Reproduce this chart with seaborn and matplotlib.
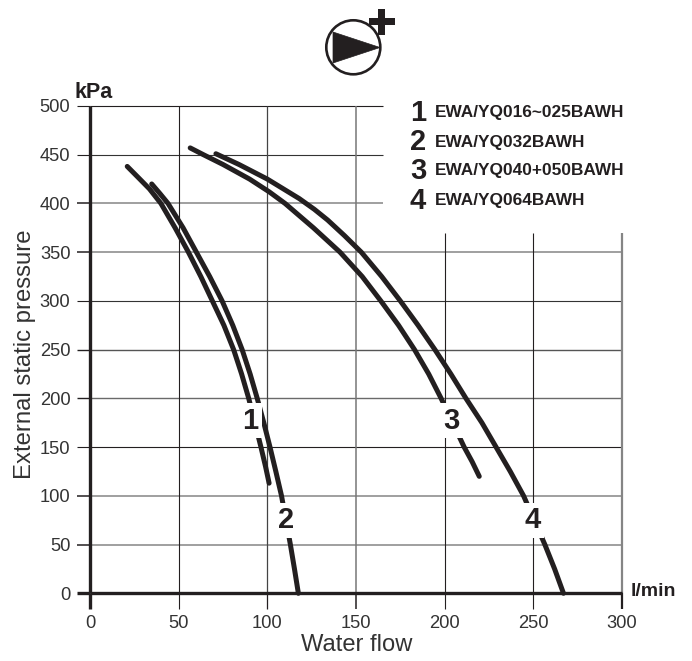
import matplotlib
matplotlib.use("Agg")
import matplotlib.pyplot as plt
import seaborn as sns
import pandas as pd
from matplotlib.patches import Circle, Polygon, Rectangle

W, H = 692, 661

# curves (l/min, kPa)
flow_1 = [21, 27, 33.5, 40, 48, 55.5, 62.5, 69, 75.5, 81, 85.5, 89.5, 93, 96.4, 99, 101]
press_1 = [438, 427, 415, 400, 375, 350, 325, 300, 275, 250, 225, 200, 175, 150, 130, 113]
flow_2 = [34.8, 39.5, 44, 52.5, 60, 67.5, 74.5, 80.5, 85.8, 90.3, 94.3, 98, 101.5, 104.8, 108, 110.5, 113, 115.3, 117.5]
press_2 = [420, 410, 400, 375, 350, 325, 300, 275, 250, 225, 200, 175, 150, 125, 100, 75, 50, 25, 0]
flow_3 = [56.5, 64, 75, 90, 101, 110, 126, 141, 153.5, 164, 174, 183, 191, 198, 204.5, 211, 215.5, 219.5]
press_3 = [457, 450, 440, 425, 412, 400, 375, 350, 325, 300, 275, 250, 225, 200, 175, 150, 135, 120]
flow_4 = [71, 84, 100, 118, 126.5, 134, 143.5, 153, 164.5, 175, 185, 194.5, 203.5, 212, 221, 229, 237, 244.5, 250.5, 256.5, 262, 267]
press_4 = [451, 440, 425, 405, 394, 383, 367, 350, 325, 300, 275, 250, 225, 200, 175, 150, 125, 100, 75, 50, 25, 0]

curve_names = ["1", "2", "3", "4"]
model_names = ["EWA/YQ016~025BAWH", "EWA/YQ032BAWH", "EWA/YQ040+050BAWH", "EWA/YQ064BAWH"]
curve_label_x = [90.5, 110.5, 204, 249.5]
curve_label_y = [177, 75, 177, 75]

x_ticks = [0, 50, 100, 150, 200, 250, 300]
y_ticks = [0, 50, 100, 150, 200, 250, 300, 350, 400, 450, 500]

df = pd.concat([
    pd.DataFrame({"flow": flow_1, "pressure": press_1, "curve": "1"}),
    pd.DataFrame({"flow": flow_2, "pressure": press_2, "curve": "2"}),
    pd.DataFrame({"flow": flow_3, "pressure": press_3, "curve": "3"}),
    pd.DataFrame({"flow": flow_4, "pressure": press_4, "curve": "4"}),
])

sns.set_theme(style="white")
plt.rcParams["font.family"] = ["Liberation Sans", "DejaVu Sans"]

INK = "#231f20"
GREY = "#858585"

fig = plt.figure(figsize=(W / 100, H / 100), dpi=100, facecolor="white")
ax = fig.add_axes([90 / W, (H - 593.3) / H, 532 / W, 487.3 / H])
ax.set_xlim(0, 300)
ax.set_ylim(0, 500)
ax.set_facecolor("none")
for side in ["top", "right", "left", "bottom"]:
    ax.spines[side].set_visible(False)

# grid, some lines stop short to leave room for the legend
h_colors = {50: GREY, 100: GREY, 150: INK, 200: "#6a6a6a", 250: "#555555", 300: "#333333",
            350: GREY, 400: GREY, 450: "#333333", 500: INK}
h_widths = {50: 1.1, 100: 1.1, 150: 0.8, 200: 1.0, 250: 1.0, 300: 0.8, 350: 1.1, 400: 1.1, 450: 0.8, 500: 0.8}
for y in y_ticks[1:]:
    ax.hlines(y, 0, 165.5 if y >= 400 else 300, color=h_colors[y], lw=h_widths[y], zorder=1, clip_on=False)

v_colors = {50: INK, 100: "#444444", 150: "#777777", 200: INK, 250: INK, 300: GREY}
v_widths = {50: 0.8, 100: 0.9, 150: 1.1, 200: 0.8, 250: 0.8, 300: 1.6}
for x in x_ticks[1:]:
    ax.vlines(x, 0, 370 if x >= 200 else 500, color=v_colors[x], lw=v_widths[x], zorder=1, clip_on=False)

ax.vlines(0, 0, 500, color=INK, lw=2.4, zorder=2, clip_on=False)
ax.hlines(0, 0, 300, color=INK, lw=2.4, zorder=2, clip_on=False)

ax.set_xticks(x_ticks)
ax.set_yticks(y_ticks)
ax.tick_params(axis="x", bottom=True, length=11.5, width=0.8, color=INK, labelsize=13.2, labelcolor="#333333", pad=4)
ax.tick_params(axis="y", left=True, length=9.6, width=0.8, color=INK, labelsize=13.2, labelcolor="#333333", pad=4.5)
for x, t in zip(x_ticks, ax.xaxis.get_major_ticks()):
    t.tick1line.set_color(v_colors.get(x, INK))
    t.tick1line.set_markeredgewidth(v_widths.get(x, 2.4))
for y, t in zip(y_ticks, ax.yaxis.get_major_ticks()):
    t.tick1line.set_color(h_colors.get(y, INK))
    t.tick1line.set_markeredgewidth(h_widths.get(y, 2.4))

sns.lineplot(data=df, x="flow", y="pressure", units="curve", estimator=None, sort=False,
             color=INK, linewidth=3.6, ax=ax, zorder=3, solid_capstyle="round",
             solid_joinstyle="round", clip_on=False)

for name, lx, ly in zip(curve_names, curve_label_x, curve_label_y):
    ax.text(lx, ly, name, fontsize=21, fontweight="bold", color=INK, ha="center", va="center",
            zorder=4, bbox=dict(facecolor="white", edgecolor="none", pad=2.5))

ax.set_xlabel("")
ax.set_ylabel("")

# everything outside the axes is placed in picture pixels
over = fig.add_axes([0, 0, 1, 1])
over.set_xlim(0, W)
over.set_ylim(H, 0)
over.axis("off")
over.set_facecolor("none")

over.text(356.5, 645, "Water flow", fontsize=17.1, color="#333333", ha="center", va="center")
over.text(25.5, 354, "External static pressure", fontsize=17.2, color="#333333", rotation=90,
          ha="center", va="center")
over.text(75, 92, "kPa", fontsize=15.5, fontweight="bold", color=INK, ha="left", va="center")
over.text(631, 592, "l/min", fontsize=14, fontweight="bold", color=INK, ha="left", va="center")

legend_y = [113, 142, 171, 201]
for name, model, ly in zip(curve_names, model_names, legend_y):
    over.text(418, ly, name, fontsize=21, fontweight="bold", color=INK, ha="center", va="center")
    over.text(435, ly, model, fontsize=12.4, fontweight="bold", color=INK, ha="left", va="center")

# pump symbol
over.add_patch(Circle((353.3, 47.3), 27, facecolor="white", edgecolor=INK, lw=1.9))
over.add_patch(Polygon([(333, 32), (380, 47.5), (333, 63)], closed=True, facecolor=INK, edgecolor=INK, lw=0.5))
over.add_patch(Rectangle((368.7, 18.3), 26, 6.8, facecolor=INK, edgecolor="none"))
over.add_patch(Rectangle((378.3, 8.7), 6.8, 26, facecolor=INK, edgecolor="none"))

fig.savefig("out.png", dpi=100)
